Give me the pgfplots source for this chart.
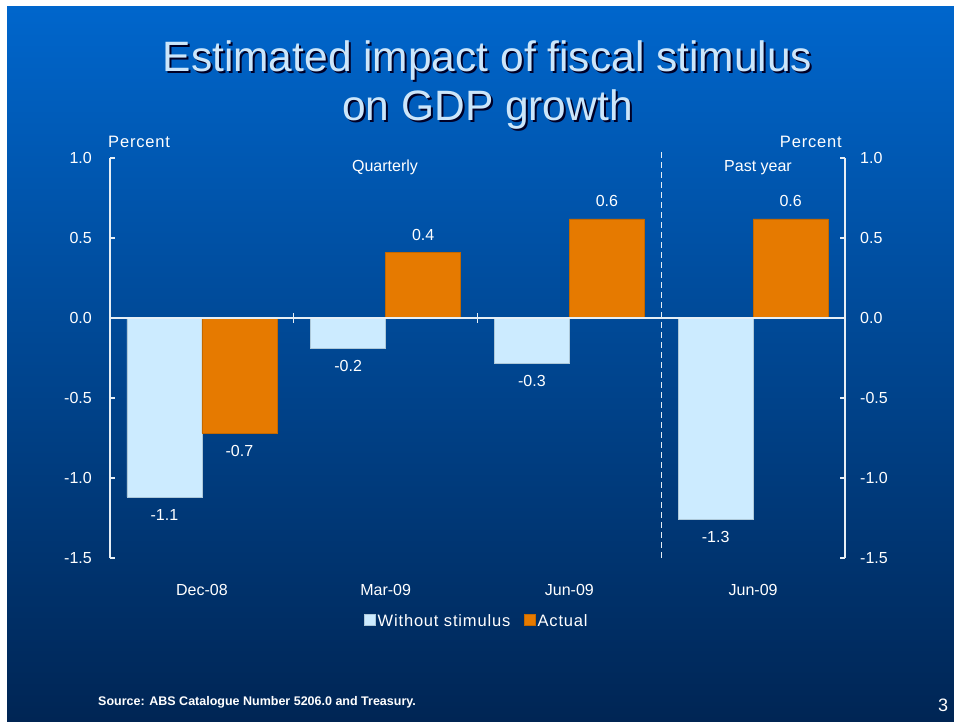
\documentclass[border=0pt]{standalone}
\usepackage{pgfplots}
\pgfplotsset{compat=1.18}
\usepackage{fontspec}
\setmainfont{Liberation Sans}
\definecolor{bgtop}{HTML}{0066CC}
\definecolor{bgmid}{HTML}{004C9E}
\definecolor{bgbot}{HTML}{002554}
\definecolor{lightbar}{HTML}{CCEBFF}
\definecolor{orangebar}{HTML}{E67A00}
\definecolor{titlecol}{HTML}{CCE6FA}
\definecolor{axcol}{HTML}{E6EEF5}
\newcommand{\lab}{\fontsize{16}{19}\selectfont}
\newcommand{\leglab}{\fontsize{16.5}{19}\selectfont\addfontfeature{LetterSpace=5}}
\begin{document}
\begin{tikzpicture}
\fill[white] (0pt,0pt) rectangle (954pt,722pt);
\shade[top color=bgtop, middle color=bgmid, bottom color=bgbot] (7pt,0pt) rectangle (954pt,715pt);
% title
\node[anchor=base, text=black!85!blue, font=\fontsize{42.5}{50}\selectfont] at (489.5pt,648pt) {Estimated impact of fiscal stimulus};
\node[anchor=base, text=titlecol, font=\fontsize{42.5}{50}\selectfont] at (487.5pt,650pt) {Estimated impact of fiscal stimulus};
\node[anchor=base, text=black!85!blue, font=\fontsize{42.5}{50}\selectfont] at (489.5pt,599pt) {on GDP growth};
\node[anchor=base, text=titlecol, font=\fontsize{42.5}{50}\selectfont] at (487.5pt,601pt) {on GDP growth};
% small labels
\node[anchor=base west, text=white, font=\leglab, inner sep=0pt] at (108pt,574pt) {Percent};
\node[anchor=base east, text=white, font=\leglab, inner sep=0pt] at (842pt,574pt) {Percent};
\node[anchor=base, text=white, font=\lab, inner sep=0pt] at (385pt,550pt) {Quarterly};
\node[anchor=base, text=white, font=\lab, inner sep=0pt] at (758pt,550pt) {Past year};
\node[anchor=base west, text=white, font=\fontsize{12.5}{14}\selectfont\bfseries, inner sep=0pt] at (98pt,16pt) {Source: ABS Catalogue Number 5206.0 and Treasury.};
\node[anchor=base, text=white, font=\fontsize{18}{20}\selectfont, inner sep=0pt] at (943pt,10pt) {3};

\begin{axis}[
  at={(110pt,164pt)}, anchor=south west,
  scale only axis, width=735pt, height=400pt,
  xmin=0, xmax=4, ymin=-1.5, ymax=1,
  clip=false,
  axis x line*=bottom, axis y line*=left,
  x axis line style={draw=none},
  y axis line style={axcol, line width=1.2pt, -},
  tick align=inside,
  major tick length=5pt,
  tick style={axcol, line width=1.2pt},
  major x tick style={draw=none},
  xtick={0.5,1.5,2.5,3.5},
  xticklabels={Dec-08,Mar-09,Jun-09,Jun-09},
  xticklabel style={anchor=base, inner sep=0pt, yshift=-33pt},
  ytick={-1.5,-1,-0.5,0,0.5,1},
  yticklabel style={anchor=east, inner sep=0pt},
  yticklabel shift=18pt,
  tick label style={text=white, font=\lab},
  /pgf/number format/.cd, fixed, fixed zerofill, precision=1, assume math mode=true,
  /pgfplots/.cd,
  ybar=0pt, bar width=75pt,
  nodes near coords, point meta=y,
  nodes near coords align=vertical,
  every node near coord/.append style={text=white, font=\lab, inner xsep=0pt, inner ysep=12pt,
    /pgf/number format/.cd, fixed, fixed zerofill, precision=1, assume math mode=true},
  legend style={at={(0.4993,-0.1575)}, anchor=center, draw=none, fill=none, text=white, font=\leglab,
    legend columns=2,
    /tikz/every odd column/.append style={column sep=0pt},
    /tikz/every even column/.append style={column sep=12pt}},
  legend image code/.code={\fill[#1] (0pt,-4pt) rectangle (11pt,7pt);},
]
\addplot[fill=lightbar, draw=lightbar!85!black, line width=0.4pt] coordinates {(0.5,-1.12) (1.5,-0.19) (2.5,-0.28) (3.5,-1.26)};
\addplot[fill=orangebar, draw=orangebar!85!black, line width=0.4pt] coordinates {(0.5,-0.72) (1.5,0.41) (2.5,0.62) (3.5,0.62)};
\legend{Without stimulus, Actual}
\draw[axcol, line width=1.2pt] (axis cs:0,0) -- (axis cs:4,0);
\draw[axcol, line width=1.2pt] ([yshift=-5pt]axis cs:1,0) -- ([yshift=5pt]axis cs:1,0);
\draw[axcol, line width=1.2pt] ([yshift=-5pt]axis cs:2,0) -- ([yshift=5pt]axis cs:2,0);
\draw[axcol, line width=1.2pt, dash pattern=on 6pt off 4pt] (axis cs:3,-1.5) -- (axis cs:3,1.0625);
\end{axis}

\begin{axis}[
  at={(110pt,164pt)}, anchor=south west,
  scale only axis, width=735pt, height=400pt,
  xmin=0, xmax=4, ymin=-1.5, ymax=1,
  axis x line=none, axis y line*=right,
  y axis line style={axcol, line width=1.2pt, -},
  tick align=inside,
  major tick length=5pt,
  tick style={axcol, line width=1.2pt},
  ytick={-1.5,-1,-0.5,0,0.5,1},
  yticklabel style={anchor=west, inner sep=0pt},
  yticklabel shift=15pt,
  tick label style={text=white, font=\lab},
  /pgf/number format/.cd, fixed, fixed zerofill, precision=1, assume math mode=true,
]
\addplot[draw=none] coordinates {(0,0)};
\end{axis}
\end{tikzpicture}
\end{document}
